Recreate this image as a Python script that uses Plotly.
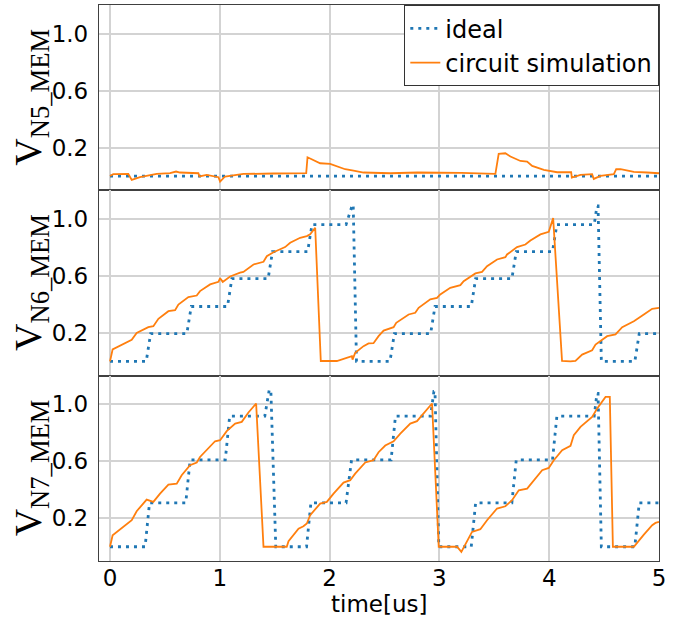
import plotly.graph_objects as go
from plotly.subplots import make_subplots

# ---------------- data ----------------
# ideal (staircase) responses
ideal_n5_t = [0.0, 5.0]
ideal_n5_v = [0.0, 0.0]

ideal_n6_t = [0.0, 0.33, 0.37, 0.70, 0.74, 1.07, 1.11, 1.44, 1.48, 1.80, 1.84, 2.15, 2.20, 2.215, 2.245,
              2.55, 2.59, 2.92, 2.96, 3.29, 3.33, 3.66, 3.70, 4.03, 4.07, 4.41, 4.435, 4.445, 4.475,
              4.78, 4.82, 5.0]
ideal_n6_v = [0.0, 0.0, 0.195, 0.195, 0.385, 0.385, 0.58, 0.58, 0.77, 0.77, 0.96, 0.96, 1.08, 1.10, 0.0,
              0.0, 0.195, 0.195, 0.385, 0.385, 0.58, 0.58, 0.77, 0.77, 0.96, 0.96, 1.09, 1.09, 0.0,
              0.0, 0.195, 0.195]

ideal_n7_t = [0.0, 0.32, 0.36, 0.69, 0.73, 1.05, 1.09, 1.41, 1.45, 1.465, 1.51, 1.79, 1.83, 2.15, 2.20,
              2.56, 2.60, 2.92, 2.95, 2.96, 2.995, 3.29, 3.33, 3.66, 3.70, 4.03, 4.07, 4.41, 4.435, 4.445, 4.475,
              4.78, 4.82, 5.0]
ideal_n7_v = [0.0, 0.0, 0.308, 0.308, 0.609, 0.609, 0.916, 0.916, 1.10, 1.10, 0.0, 0.0, 0.308, 0.308, 0.609,
              0.609, 0.916, 0.916, 1.09, 1.09, 0.0, 0.0, 0.308, 0.308, 0.609, 0.609, 0.916, 0.916, 1.075, 1.075, 0.0,
              0.0, 0.308, 0.308]

# circuit simulation responses
sim_n5_t = [0.0, 0.03, 0.167, 0.198, 0.273, 0.425, 0.547, 0.602, 0.638, 0.805, 0.815, 0.881, 0.988, 1.003,
            1.048, 1.216, 1.489, 1.787, 1.799, 1.838, 1.914, 2.005, 2.142, 2.218, 2.309, 2.552, 2.80, 3.20,
            3.510, 3.540, 3.601, 3.647, 3.738, 3.799, 3.845, 3.951, 4.073, 4.200, 4.206, 4.285, 4.391, 4.406,
            4.467, 4.589, 4.610, 4.650, 4.771, 4.892, 5.0]
sim_n5_v = [0.0, 0.013, 0.015, -0.027, -0.008, 0.015, 0.020, 0.032, 0.025, 0.020, -0.003, 0.008, -0.008, -0.039,
            -0.003, 0.015, 0.018, 0.020, 0.132, 0.118, 0.090, 0.085, 0.048, 0.039, 0.025, 0.020, 0.025, 0.022,
            0.015, 0.156, 0.160, 0.137, 0.106, 0.102, 0.071, 0.043, 0.027, 0.027, -0.011, 0.008, 0.013, -0.020,
            0.001, 0.013, 0.048, 0.048, 0.029, 0.025, 0.020]

sim_n6_t = [0.0, 0.024, 0.198, 0.243, 0.349, 0.395, 0.441, 0.532, 0.593, 0.623, 0.714, 0.790, 0.820, 0.912,
            0.988, 1.003, 1.027, 1.094, 1.185, 1.215, 1.307, 1.398, 1.428, 1.489, 1.565, 1.595, 1.641, 1.732,
            1.793, 1.823, 1.869, 1.920, 2.066, 2.203, 2.209, 2.233, 2.309, 2.355, 2.400, 2.446, 2.492, 2.583,
            2.607, 2.720, 2.780, 2.811, 2.917, 2.978, 3.008, 3.099, 3.191, 3.221, 3.328, 3.388, 3.434, 3.525,
            3.601, 3.616, 3.707, 3.783, 3.829, 3.920, 3.996, 4.011, 4.036, 4.117, 4.193, 4.239, 4.300, 4.391,
            4.422, 4.528, 4.604, 4.665, 4.771, 4.862, 4.938, 5.0]
sim_n6_v = [0.0, 0.084, 0.151, 0.200, 0.240, 0.247, 0.299, 0.352, 0.359, 0.399, 0.451, 0.462, 0.493, 0.540,
            0.558, 0.584, 0.558, 0.596, 0.622, 0.628, 0.680, 0.699, 0.738, 0.766, 0.792, 0.802, 0.832, 0.867,
            0.879, 0.891, 0.937, 0.003, 0.003, 0.037, 0.013, 0.060, 0.107, 0.126, 0.128, 0.177, 0.216, 0.240,
            0.271, 0.329, 0.341, 0.376, 0.435, 0.446, 0.470, 0.516, 0.535, 0.563, 0.617, 0.628, 0.668, 0.715,
            0.731, 0.750, 0.802, 0.820, 0.848, 0.891, 0.909, 0.949, 1.005, 0.003, 0.0, 0.004, 0.048, 0.078,
            0.118, 0.177, 0.189, 0.240, 0.282, 0.329, 0.369, 0.376]

sim_n7_t = [0.0, 0.024, 0.198, 0.243, 0.334, 0.395, 0.456, 0.532, 0.608, 0.653, 0.729, 0.790, 0.820, 0.881,
            0.957, 1.003, 1.063, 1.140, 1.200, 1.261, 1.331, 1.398, 1.610, 1.626, 1.717, 1.762, 1.793, 1.823,
            1.914, 1.975, 2.036, 2.127, 2.188, 2.233, 2.325, 2.400, 2.446, 2.507, 2.583, 2.644, 2.735, 2.796,
            2.841, 2.933, 2.994, 3.161, 3.200, 3.297, 3.373, 3.434, 3.525, 3.601, 3.662, 3.723, 3.799, 3.860,
            3.936, 3.996, 4.042, 4.118, 4.194, 4.224, 4.285, 4.391, 4.437, 4.513, 4.552, 4.580, 4.771, 4.862,
            4.938, 4.968, 5.0]
sim_n7_v = [0.0, 0.081, 0.186, 0.249, 0.331, 0.315, 0.373, 0.436, 0.443, 0.502, 0.572, 0.591, 0.630, 0.677,
            0.740, 0.747, 0.811, 0.864, 0.876, 0.942, 1.005, 0.0, 0.0, 0.039, 0.127, 0.144, 0.163, 0.221,
            0.303, 0.315, 0.373, 0.450, 0.467, 0.513, 0.591, 0.607, 0.663, 0.710, 0.740, 0.794, 0.864, 0.881,
            0.923, 1.005, 0.0, 0.0, -0.036, 0.104, 0.123, 0.186, 0.268, 0.284, 0.326, 0.396, 0.408, 0.467,
            0.537, 0.553, 0.607, 0.677, 0.708, 0.782, 0.841, 0.911, 0.970, 1.051, 1.051, 0.0, 0.0, 0.085,
            0.151, 0.167, 0.174]

panel_labels = ["N5_MEM", "N6_MEM", "N7_MEM"]
y_ticks = [0.2, 0.6, 1.0]
y_tick_text = ["0.2", "0.6", "1.0"]
x_ticks = [0, 1, 2, 3, 4, 5]
x_tick_text = ["0", "1", "2", "3", "4", "5"]

# ---------------- figure ----------------
BLUE = "#1f77b4"
ORANGE = "#ff7f0e"
GRID = "#d3d3d3"
FRAME = "#404040"

fig = make_subplots(rows=3, cols=1, shared_xaxes=True, vertical_spacing=0)

ideals = [(ideal_n5_t, ideal_n5_v), (ideal_n6_t, ideal_n6_v), (ideal_n7_t, ideal_n7_v)]
sims = [(sim_n5_t, sim_n5_v), (sim_n6_t, sim_n6_v), (sim_n7_t, sim_n7_v)]

for i in range(3):
    fig.add_trace(go.Scatter(x=ideals[i][0], y=ideals[i][1], mode="lines", name="ideal",
                             line=dict(color=BLUE, width=2.8, dash="3px,5px"),
                             showlegend=(i == 0), legendrank=1), row=i + 1, col=1)
    fig.add_trace(go.Scatter(x=sims[i][0], y=sims[i][1], mode="lines", name="circuit simulation",
                             line=dict(color=ORANGE, width=1.8),
                             showlegend=(i == 0), legendrank=2), row=i + 1, col=1)

for i in range(3):
    fig.update_yaxes(range=[-0.1, 1.2], tickvals=y_ticks, ticktext=y_tick_text,
                     showgrid=True, gridcolor=GRID, gridwidth=1.5,
                     showline=True, mirror=True, linecolor=FRAME, linewidth=1.3,
                     ticks="", ticklabelstandoff=5, zeroline=False,
                     tickfont=dict(family="DejaVu Sans", size=23, color="#000"),
                     row=i + 1, col=1)
    fig.update_xaxes(range=[-0.1, 5.0], tickvals=x_ticks, ticktext=x_tick_text,
                     showgrid=True, gridcolor=GRID, gridwidth=1.5,
                     showline=True, mirror=True, linecolor=FRAME, linewidth=1.3,
                     ticks="", zeroline=False,
                     tickfont=dict(family="DejaVu Sans", size=23, color="#000"),
                     row=i + 1, col=1)

fig.update_xaxes(showticklabels=True, ticklabelstandoff=-4, row=3, col=1)

for i, lab in enumerate(panel_labels):
    yref = "y domain" if i == 0 else f"y{i + 1} domain"
    fig.add_annotation(text=f"V<sub>{lab}</sub>", xref="paper", x=0, xanchor="center", xshift=-68,
                       yref=yref, y=0.5, yanchor="middle", textangle=-90, showarrow=False,
                       font=dict(family="Liberation Serif", size=38, color="#000"))

fig.add_annotation(text="time[us]", xref="paper", x=0.5, xanchor="center",
                   yref="paper", y=0, yanchor="middle", yshift=-43, showarrow=False,
                   font=dict(family="DejaVu Sans", size=23, color="#000"))

fig.update_layout(
    width=684, height=618,
    margin=dict(l=99, r=25, t=5, b=57),
    paper_bgcolor="white", plot_bgcolor="white",
    showlegend=True,
    legend=dict(x=1, y=1, xanchor="right", yanchor="top", xref="paper", yref="paper",
                bgcolor="white", bordercolor="#333", borderwidth=1.3,
                font=dict(family="DejaVu Sans", size=24, color="#000"),
                tracegroupgap=0, itemwidth=30),
)

fig.write_html("out.html")
